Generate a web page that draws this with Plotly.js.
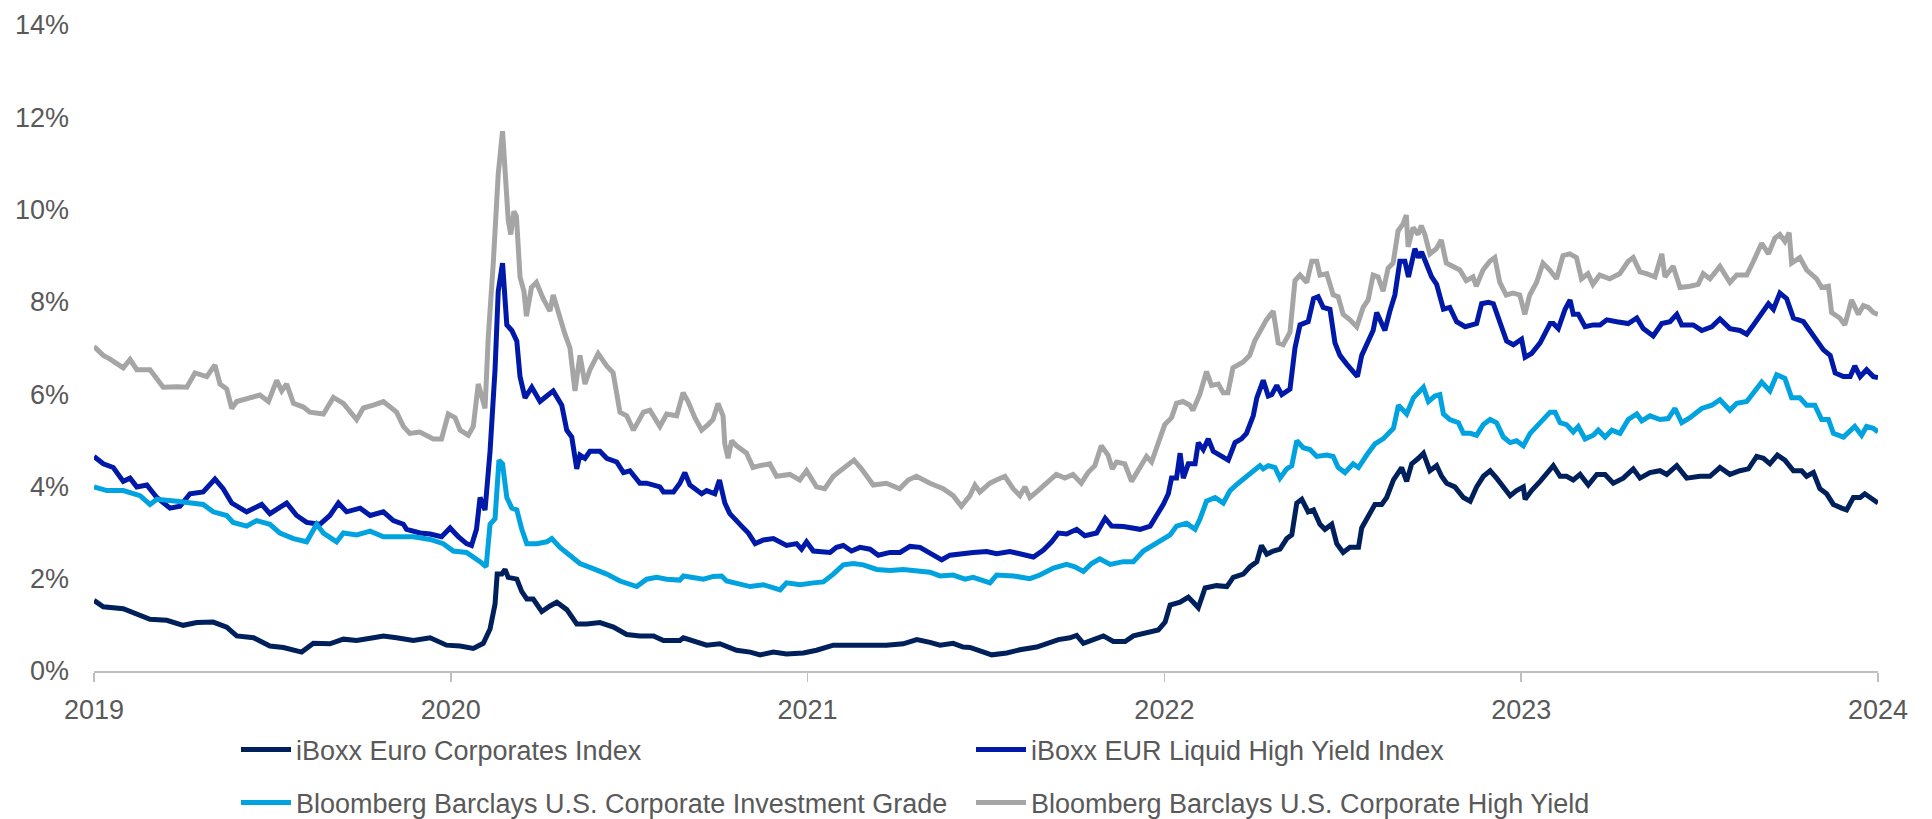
<!DOCTYPE html>
<html>
<head>
<meta charset="utf-8">
<script src="https://cdn.plot.ly/plotly-3.0.1.min.js"></script>
<style>
  html, body { margin: 0; padding: 0; background: #ffffff; }
  #chart { width: 1932px; height: 819px; }
</style>
</head>
<body>
<div id="chart"></div>
<script>
// x values: years elapsed since 1 Jan 2019
const yearLabels = ['2019', '2020', '2021', '2022', '2023', '2024'];
const yTickLabels = ['0%', '2%', '4%', '6%', '8%', '10%', '12%', '14%'];

const seriesNames = [
  'iBoxx Euro Corporates Index',
  'iBoxx EUR Liquid High Yield Index',
  'Bloomberg Barclays U.S. Corporate Investment Grade',
  'Bloomberg Barclays U.S. Corporate High Yield'
];

const tEuroCorp = [0.000,0.026,0.082,0.110,0.157,0.204,0.250,0.288,0.334,0.372,0.400,0.447,0.493,0.531,0.582,0.615,0.661,0.699,0.736,0.783,0.811,
  0.848,0.895,0.942,0.988,1.026,1.063,1.091,1.110,1.124,1.130,1.143,1.152,1.161,1.185,1.199,1.213,1.231,1.255,1.278,1.297,1.325,1.353,1.381,1.418,1.456,1.493,1.530,1.568,1.596,1.642,
  1.652,1.689,1.717,1.754,1.801,1.839,1.867,1.904,1.941,1.988,2.025,2.072,2.128,2.175,2.221,2.268,2.306,2.343,2.371,2.408,2.436,
  2.455,2.483,2.516,2.558,2.595,2.642,2.670,2.703,2.735,2.754,2.773,2.801,2.829,2.857,2.890,2.913,2.950,2.983,3.002,3.016,3.044,3.067,3.081,3.095,3.114,3.146,3.175,3.193,3.221,3.240,3.259,
  3.272,3.287,3.305,3.324,3.343,3.357,3.371,3.385,3.403,3.418,3.436,3.450,3.469,3.483,3.501,3.520,3.544,3.553,3.571,3.590,3.609,3.623,3.642,3.665,3.679,3.693,3.712,3.726,3.744,3.763,3.777,3.791,3.814,3.838,3.857,3.875,3.894,3.913,3.931,3.950,3.969,3.987,4.006,4.011,4.029,4.053,4.081,
  4.090,4.109,4.127,4.146,4.165,4.188,4.212,4.235,4.258,4.286,4.314,4.333,4.361,4.389,4.408,4.436,4.464,4.501,4.529,4.557,4.585,4.613,4.637,4.660,4.679,4.697,4.718,4.739,4.763,4.786,4.800,4.819,4.837,4.856,4.875,4.898,4.912,4.931,4.950,4.963,4.978,5.000];
const yEuroCorp = [1.53,1.39,1.35,1.26,1.12,1.10,0.99,1.05,1.06,0.95,0.76,0.72,0.54,0.51,0.41,0.60,0.59,0.69,0.66,0.72,0.76,
  0.72,0.66,0.72,0.56,0.54,0.49,0.60,0.91,1.45,2.10,2.10,2.20,2.03,1.99,1.72,1.56,1.56,1.29,1.41,1.49,1.33,1.02,1.02,1.05,0.95,0.79,0.76,0.76,0.66,0.66,
  0.72,0.64,0.56,0.59,0.45,0.41,0.35,0.41,0.37,0.39,0.45,0.56,0.56,0.54,0.56,0.59,0.68,0.62,0.56,0.60,0.52,
  0.51,0.43,0.35,0.39,0.46,0.52,0.60,0.68,0.72,0.77,0.60,0.68,0.76,0.64,0.64,0.76,0.83,0.89,1.06,1.43,1.49,1.60,1.49,1.37,1.80,1.85,1.83,2.03,2.10,2.26,2.37,
  2.72,2.53,2.60,2.64,2.87,2.95,3.64,3.72,3.45,3.49,3.18,3.07,3.18,2.76,2.57,2.68,2.68,3.10,3.34,3.61,3.61,3.76,4.14,4.41,4.11,4.49,4.61,4.72,4.34,4.45,4.22,4.07,3.99,3.76,3.68,3.99,4.22,4.34,4.18,3.99,3.80,3.91,3.99,3.72,3.91,4.11,4.38,
  4.45,4.22,4.22,4.14,4.26,4.03,4.26,4.26,4.07,4.18,4.38,4.18,4.30,4.34,4.26,4.45,4.18,4.22,4.22,4.41,4.26,4.34,4.38,4.65,4.61,4.49,4.68,4.57,4.34,4.34,4.22,4.30,3.95,3.84,3.61,3.53,3.49,3.76,3.76,3.84,3.76,3.64];

const tEurHY = [0.000,0.026,0.054,0.082,0.101,0.120,0.148,0.176,0.213,0.241,0.269,0.306,0.339,0.362,0.386,0.428,0.470,0.493,0.540,0.568,0.596,0.633,0.661,0.685,0.708,0.746,0.774,0.811,
  0.839,0.867,0.876,0.914,0.942,0.974,0.998,1.021,1.044,1.058,1.072,1.082,1.096,1.110,1.124,1.133,1.145,1.152,1.157,1.171,1.185,1.194,1.208,1.227,1.250,1.269,1.287,1.311,1.325,1.339,1.353,1.362,1.376,1.390,1.418,1.437,1.465,1.484,1.502,1.530,1.549,1.586,1.596,1.624,1.642,
  1.656,1.670,1.703,1.717,1.740,1.753,1.768,1.782,1.815,1.834,1.853,1.876,1.904,1.941,1.969,1.983,1.997,2.016,2.063,2.081,2.100,2.123,2.147,2.175,2.198,2.231,2.259,2.287,2.315,2.352,2.376,2.399,2.427,
  2.464,2.502,2.530,2.567,2.605,2.633,2.661,2.684,2.703,2.726,2.754,2.777,2.810,2.834,2.852,2.885,2.932,2.960,2.978,2.997,3.011,3.020,3.034,3.044,3.053,3.067,3.086,3.095,3.109,3.123,3.137,3.156,3.179,3.198,3.216,3.230,3.249,3.259,
  3.277,3.291,3.301,3.315,3.329,3.352,3.366,3.380,3.403,3.418,3.431,3.445,3.464,3.478,3.492,3.511,3.529,3.541,3.553,3.567,3.585,3.595,3.609,3.618,3.632,3.646,3.660,3.674,3.684,3.702,3.712,3.721,3.735,3.749,3.763,3.782,3.800,3.819,3.843,3.861,3.875,3.889,3.908,3.922,3.941,3.959,3.978,4.001,4.011,4.029,4.053,4.067,4.081,
  4.090,4.104,4.123,4.137,4.146,4.160,4.179,4.202,4.221,4.240,4.268,4.300,4.324,4.342,4.370,4.394,4.417,4.436,4.450,4.482,4.506,4.534,4.557,4.585,4.613,4.632,4.651,4.674,4.693,4.707,4.725,4.744,4.763,4.791,4.809,4.833,4.847,4.866,4.880,4.903,4.922,4.935,4.950,4.968,4.987,5.000];
const yEurHY = [4.65,4.49,4.41,4.11,4.18,3.99,4.03,3.76,3.53,3.57,3.84,3.88,4.16,3.95,3.64,3.45,3.61,3.41,3.64,3.37,3.22,3.18,3.37,3.64,3.45,3.53,3.37,3.45,
  3.26,3.18,3.07,2.99,2.97,2.91,3.10,2.91,2.76,2.72,3.07,3.76,3.49,4.76,6.53,8.23,8.84,8.23,7.50,7.38,7.15,6.38,5.92,6.15,5.84,5.96,6.07,5.76,5.22,5.07,4.38,4.68,4.61,4.76,4.76,4.61,4.53,4.30,4.34,4.07,4.07,3.99,3.88,3.88,4.07,
  4.30,4.03,3.84,3.91,3.84,4.14,3.64,3.41,3.14,2.99,2.76,2.84,2.87,2.72,2.76,2.64,2.80,2.60,2.57,2.68,2.72,2.60,2.68,2.64,2.51,2.57,2.57,2.70,2.68,2.53,2.41,2.51,2.54,
  2.57,2.59,2.54,2.59,2.53,2.47,2.62,2.80,2.99,2.97,3.07,2.93,2.99,3.31,3.14,3.13,3.07,3.14,3.37,3.61,3.84,4.18,4.18,4.72,4.18,4.49,4.49,4.95,4.80,5.03,4.76,4.68,4.57,4.95,5.03,5.15,5.53,5.92,
  6.30,5.96,5.99,6.19,5.99,6.11,7.00,7.50,7.57,8.07,8.11,7.88,7.84,7.11,6.84,6.65,6.49,6.38,6.84,7.07,7.38,7.77,7.50,7.38,7.80,8.15,8.88,8.88,8.54,9.15,8.96,9.08,8.81,8.54,8.38,7.84,7.88,7.57,7.46,7.50,7.53,7.96,7.99,7.96,7.50,7.15,7.07,7.19,6.80,6.88,7.11,7.30,7.53,
  7.53,7.42,7.84,8.04,7.73,7.73,7.46,7.50,7.50,7.61,7.57,7.53,7.65,7.42,7.26,7.53,7.57,7.73,7.50,7.50,7.38,7.46,7.63,7.42,7.38,7.30,7.50,7.77,7.96,7.84,8.19,8.07,7.65,7.57,7.38,7.15,6.96,6.84,6.46,6.38,6.38,6.61,6.38,6.53,6.38,6.36];

const tUsIG = [0.000,0.036,0.082,0.129,0.157,0.176,0.232,0.269,0.306,0.334,0.372,0.390,0.428,0.456,0.493,0.521,0.559,0.596,0.624,0.643,0.680,0.699,0.736,0.774,0.811,
  0.848,0.895,0.942,0.979,1.007,1.044,1.082,1.099,1.110,1.124,1.135,1.145,1.157,1.171,1.185,1.199,1.213,1.241,1.269,1.283,1.306,1.334,1.362,1.399,1.437,1.474,1.521,1.549,1.577,1.605,1.642,
  1.652,1.689,1.708,1.736,1.759,1.773,1.801,1.839,1.876,1.923,1.941,1.979,2.016,2.044,2.072,2.100,2.128,2.156,2.194,2.231,2.268,2.306,2.343,2.371,2.408,2.441,
  2.464,2.511,2.530,2.577,2.623,2.651,2.689,2.726,2.749,2.773,2.796,2.819,2.848,2.885,2.913,2.941,2.969,2.997,3.016,3.034,3.062,3.086,3.100,3.118,3.142,3.165,3.184,3.207,3.230,3.249,3.268,
  3.277,3.291,3.310,3.324,3.343,3.357,3.371,3.389,3.408,3.427,3.455,3.473,3.487,3.506,3.529,3.544,3.567,3.590,3.613,3.642,3.656,3.679,3.698,3.716,3.726,3.740,3.758,3.772,3.782,3.800,3.824,3.838,3.857,3.875,3.894,3.913,3.931,3.950,3.969,3.987,4.006,4.025,4.043,4.062,4.081,
  4.095,4.109,4.127,4.146,4.160,4.179,4.202,4.216,4.235,4.254,4.277,4.300,4.324,4.338,4.361,4.389,4.412,4.431,4.450,4.473,4.506,4.534,4.557,4.585,4.604,4.632,4.655,4.674,4.697,4.716,4.739,4.758,4.781,4.800,4.823,4.842,4.861,4.875,4.903,4.922,4.935,4.954,4.968,4.987,5.000];
const yUsIG = [3.99,3.91,3.91,3.80,3.61,3.72,3.68,3.64,3.61,3.45,3.37,3.22,3.14,3.26,3.18,2.99,2.87,2.80,3.18,2.99,2.80,2.99,2.95,3.03,2.91,
  2.91,2.91,2.85,2.76,2.60,2.57,2.37,2.26,3.18,3.30,4.57,4.49,3.76,3.53,3.49,3.07,2.76,2.76,2.80,2.87,2.68,2.49,2.33,2.22,2.10,1.95,1.83,1.99,2.03,1.99,1.97,
  2.06,2.03,1.99,2.05,2.06,1.95,1.91,1.83,1.87,1.76,1.91,1.87,1.91,1.93,2.10,2.30,2.33,2.30,2.20,2.18,2.20,2.18,2.14,2.06,2.08,1.99,
  2.03,1.91,2.08,2.06,2.00,2.08,2.23,2.31,2.26,2.16,2.33,2.43,2.31,2.37,2.37,2.60,2.72,2.84,2.95,3.14,3.20,3.07,3.30,3.68,3.76,3.64,3.91,4.07,4.22,4.34,4.45,
  4.38,4.45,4.41,4.18,4.38,4.45,4.99,4.84,4.80,4.65,4.68,4.65,4.41,4.30,4.49,4.41,4.68,4.92,5.03,5.26,5.76,5.57,5.92,6.07,6.15,5.84,5.96,5.99,5.57,5.45,5.38,5.15,5.15,5.11,5.34,5.45,5.38,5.07,4.95,4.99,4.88,5.15,5.30,5.49,5.61,
  5.61,5.38,5.34,5.18,5.30,5.03,5.11,5.22,5.07,5.22,5.15,5.45,5.57,5.42,5.53,5.45,5.47,5.69,5.38,5.49,5.69,5.76,5.88,5.65,5.80,5.84,6.07,6.26,6.07,6.42,6.34,5.92,5.92,5.76,5.76,5.45,5.45,5.15,5.07,5.22,5.30,5.11,5.30,5.26,5.18];

const tUsHY = [0.000,0.026,0.045,0.082,0.101,0.120,0.157,0.194,0.232,0.260,0.283,0.316,0.339,0.353,0.372,0.386,0.400,0.437,0.465,0.489,0.512,0.526,0.540,0.559,0.587,0.605,0.643,0.671,0.699,0.736,0.755,0.783,0.811,
  0.848,0.867,0.885,0.913,0.951,0.974,0.993,1.012,1.026,1.049,1.063,1.077,1.096,1.105,1.119,1.133,1.145,1.152,1.161,1.168,1.177,1.184,1.194,1.205,1.212,1.226,1.240,1.259,1.278,1.287,1.306,1.320,1.334,1.348,1.362,1.376,1.390,1.413,1.437,1.455,1.474,1.493,1.512,1.540,1.558,1.586,1.605,1.633,
  1.651,1.665,1.684,1.703,1.721,1.735,1.749,1.763,1.768,1.777,1.787,1.801,1.829,1.847,1.866,1.894,1.913,1.950,1.978,1.997,2.025,2.048,2.072,2.104,2.130,2.151,2.184,2.221,2.258,2.282,2.305,2.343,2.380,2.408,2.431,2.455,
  2.469,2.483,2.511,2.529,2.553,2.576,2.595,2.609,2.623,2.646,2.669,2.697,2.721,2.744,2.767,2.786,2.805,2.823,2.842,2.854,2.866,2.889,2.908,2.931,2.950,2.964,2.987,3.001,3.020,3.034,3.052,3.071,3.080,3.099,3.118,3.132,3.151,3.165,3.178,3.192,3.220,3.239,3.253,
  3.286,3.305,3.319,3.333,3.352,3.366,3.380,3.399,3.413,3.427,3.436,3.455,3.473,3.487,3.501,3.520,3.539,3.557,3.571,3.585,3.599,3.613,3.627,3.641,3.655,3.669,3.678,3.683,3.697,3.711,3.720,3.730,3.744,3.762,3.776,3.790,3.809,3.828,3.846,3.865,3.874,3.893,3.912,3.926,3.940,3.958,3.977,3.996,4.010,4.024,4.043,4.061,4.080,
  4.099,4.117,4.136,4.155,4.169,4.187,4.201,4.220,4.248,4.276,4.300,4.314,4.333,4.351,4.375,4.394,4.403,4.426,4.445,4.473,4.496,4.510,4.529,4.557,4.585,4.604,4.632,4.651,4.674,4.693,4.711,4.725,4.739,4.751,4.758,4.781,4.800,4.828,4.842,4.861,4.870,4.893,4.907,4.926,4.945,4.959,4.973,4.987,5.000];
const yUsHY = [7.03,6.84,6.76,6.57,6.75,6.53,6.53,6.15,6.16,6.15,6.46,6.38,6.63,6.22,6.11,5.69,5.84,5.92,5.98,5.84,6.30,6.07,6.22,5.80,5.72,5.61,5.57,5.93,5.80,5.45,5.70,5.76,5.84,
  5.61,5.30,5.15,5.18,5.03,5.03,5.57,5.49,5.22,5.11,5.30,6.22,5.69,7.23,8.84,10.77,11.70,10.85,9.77,9.46,9.96,9.85,8.54,8.23,7.69,8.31,8.42,8.07,7.80,8.15,7.61,7.30,7.00,6.07,6.84,6.22,6.53,6.88,6.61,6.46,5.61,5.53,5.22,5.61,5.65,5.30,5.57,5.53,
  6.03,5.84,5.49,5.22,5.34,5.45,5.80,5.53,4.92,4.61,4.99,4.88,4.72,4.41,4.45,4.49,4.22,4.26,4.14,4.34,3.99,3.95,4.22,4.41,4.57,4.38,4.03,4.07,3.95,4.14,4.22,4.07,3.95,3.80,3.57,3.80,
  4.03,3.88,4.07,4.14,4.22,3.95,3.80,3.99,3.76,3.91,4.07,4.26,4.18,4.26,4.07,4.30,4.45,4.88,4.68,4.38,4.53,4.49,4.11,4.41,4.65,4.53,5.07,5.34,5.49,5.80,5.84,5.76,5.65,5.99,6.49,6.19,6.22,6.03,6.03,6.57,6.69,6.84,7.15,
  7.61,7.80,7.11,7.07,7.34,8.46,8.58,8.42,8.88,8.88,8.58,8.61,8.15,8.11,7.73,7.61,7.46,7.88,8.04,8.58,8.54,8.23,8.73,8.84,9.54,9.69,9.88,9.19,9.61,9.46,9.65,9.46,9.04,9.15,9.34,8.84,8.77,8.69,8.46,8.54,8.34,8.69,8.88,8.96,8.42,8.15,8.19,8.15,7.73,8.15,8.42,8.84,8.69,
  8.50,9.00,9.04,8.96,8.50,8.61,8.38,8.58,8.50,8.61,8.88,8.96,8.65,8.61,8.54,9.04,8.54,8.77,8.31,8.34,8.38,8.61,8.50,8.77,8.42,8.58,8.58,8.88,9.27,9.04,9.38,9.46,9.31,9.50,8.84,8.96,8.69,8.50,8.31,8.34,7.77,7.65,7.50,8.04,7.73,7.92,7.88,7.77,7.73];

const seriesColors = ['#00205b', '#0019a8', '#00a3e0', '#a5a5a5'];
const xs = [tEuroCorp, tEurHY, tUsIG, tUsHY];
const ys = [yEuroCorp, yEurHY, yUsIG, yUsHY];
const legendIds = ['legend', 'legend', 'legend2', 'legend2'];

const traces = seriesNames.map((name, i) => ({
  type: 'scatter',
  mode: 'lines',
  name: name,
  x: xs[i],
  y: ys[i].map(v => v / 100),
  line: { color: seriesColors[i], width: 5 },
  legend: legendIds[i],
  hoverinfo: 'skip'
}));

const tickFont = { family: 'Liberation Sans, Arial, sans-serif', size: 27, color: '#595959' };
const legendFont = { family: 'Liberation Sans, Arial, sans-serif', size: 27, color: '#595959' };

const legendBase = {
  orientation: 'h',
  xref: 'container', yref: 'container',
  x: 236 / 1932, xanchor: 'left',
  yanchor: 'middle',
  itemwidth: 50,
  entrywidth: 670,
  font: legendFont,
  bgcolor: 'rgba(0,0,0,0)',
  borderwidth: 0
};

const layout = {
  width: 1932,
  height: 819,
  margin: { l: 94, r: 54, t: 24.5, b: 148, autoexpand: false },
  paper_bgcolor: '#ffffff',
  plot_bgcolor: '#ffffff',
  showlegend: true,
  xaxis: {
    range: [0, 5],
    tickmode: 'array',
    tickvals: yearLabels.map((_, i) => i),
    ticktext: yearLabels,
    showgrid: false,
    zeroline: false,
    showline: true,
    linecolor: '#bfbfbf',
    linewidth: 1.5,
    ticks: 'outside',
    ticklen: 9,
    tickwidth: 1.5,
    tickcolor: '#bfbfbf',
    ticklabelstandoff: 5,
    tickfont: tickFont,
    automargin: false
  },
  yaxis: {
    range: [0, 0.14],
    tickmode: 'array',
    tickvals: yTickLabels.map((_, i) => i * 0.02),
    ticktext: yTickLabels,
    showgrid: false,
    zeroline: false,
    showline: false,
    ticks: '',
    ticklabelstandoff: 24,
    tickfont: tickFont,
    automargin: false
  },
  legend: Object.assign({}, legendBase, { y: (819 - 750) / 819 }),
  legend2: Object.assign({}, legendBase, { y: (819 - 803) / 819 })
};

Plotly.newPlot('chart', traces, layout, { displayModeBar: false, staticPlot: true });
</script>
</body>
</html>
